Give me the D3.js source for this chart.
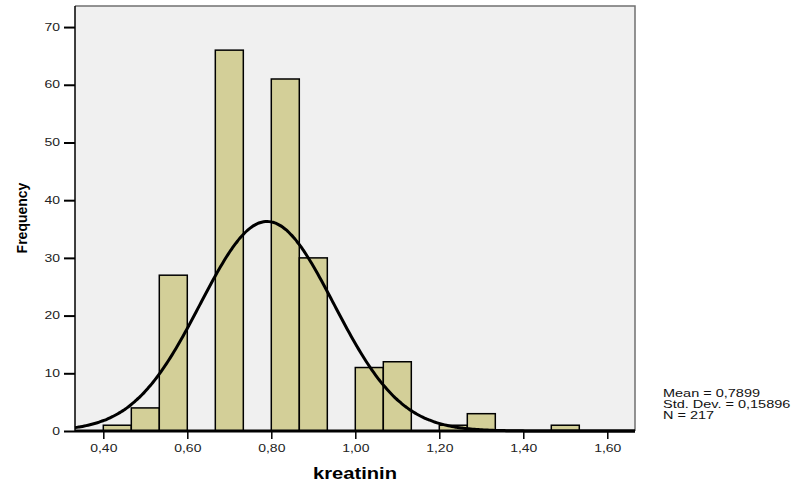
<!DOCTYPE html>
<html><head><meta charset="utf-8">
<script src="https://cdn.jsdelivr.net/npm/d3@7"></script>
<style>body{margin:0;background:#fff}svg{display:block}</style>
</head><body>
<script>
// Data
const binStart = [0.40,0.4667,0.5333,0.60,0.6667,0.7333,0.80,0.8667,0.9333,1.00,1.0667,1.1333,1.20,1.2667,1.3333,1.40,1.4667];
const binWidth = 1/15;
const counts   = [1,4,27,0,66,0,61,30,0,11,12,0,1,3,0,0,1];
const xTicks = [0.4,0.6,0.8,1.0,1.2,1.4,1.6];
const yTicks = [0,10,20,30,40,50,60,70];
const mean = 0.7899, sd = 0.15896, N = 217;
const statsText = ["Mean = 0,7899","Std. Dev. = 0,15896","N = 217"];

const W=797,H=484;
const L=75,R=635,T=6,B=431;
const FONT="Liberation Sans, Arial, sans-serif";
const svg=d3.select("body").append("svg").attr("width",W).attr("height",H);
const x=d3.scaleLinear().domain([0.3326,1.666]).range([L,R]);
const y=d3.scaleLinear().domain([0,73.65]).range([B,T]);
const fmt=v=>v.toFixed(2).replace(".",",");

svg.append("rect").attr("x",L).attr("y",T).attr("width",R-L).attr("height",B-T).attr("fill","#f0f0f0");
svg.append("path").attr("d",`M${L},${T}H${R}V${B}`).attr("fill","none").attr("stroke","#707070").attr("stroke-width",1.5);

const bars=binStart.map((s,i)=>({s,c:counts[i]})).filter(d=>d.c>0);
svg.append("g").selectAll("rect").data(bars).join("rect")
  .attr("x",d=>x(d.s)).attr("width",d=>x(d.s+binWidth)-x(d.s))
  .attr("y",d=>y(d.c)).attr("height",d=>y(0)-y(d.c))
  .attr("fill","#d3cf98").attr("stroke","#000").attr("stroke-width",1.5);

// fitted normal curve from the reported mean / sd / N
const pdf=v=>N*binWidth*Math.exp(-0.5*((v-mean)/sd)**2)/(sd*Math.sqrt(2*Math.PI));
const xs=d3.range(0,301).map(i=>x.domain()[0]+(x.domain()[1]-x.domain()[0])*i/300);
svg.append("path").datum(xs)
  .attr("d",d3.line().x(v=>x(v)).y(v=>y(pdf(v))).curve(d3.curveBasis))
  .attr("fill","none").attr("stroke","#000").attr("stroke-width",3);

const SX=1.4;
const ya=svg.append("g").attr("transform",`translate(${L},0)`)
  .call(d3.axisLeft(y).tickValues(yTicks).tickSize(11).tickPadding(4).tickFormat(d3.format("d")));
ya.select(".domain").attr("d",`M0,${T}V${B}`).attr("stroke","#000").attr("stroke-width",1.5);
ya.selectAll(".tick line").attr("stroke","#000").attr("stroke-width",2);
ya.selectAll("text").attr("font-family",FONT).attr("font-size",10).attr("fill","#222")
  .attr("x",-15/SX).attr("transform",`scale(${SX},1)`);

const xa=svg.append("g").attr("transform",`translate(0,${B})`)
  .call(d3.axisBottom(x).tickValues(xTicks).tickSize(8).tickPadding(6).tickFormat(fmt));
xa.select(".domain").attr("d",`M${L},0H${R}`).attr("stroke","#000").attr("stroke-width",3);
xa.selectAll(".tick line").attr("stroke","#000").attr("stroke-width",1.5);
xa.selectAll("text").attr("font-family",FONT).attr("font-size",10).attr("fill","#222")
  .attr("transform",`scale(${SX},1)`);

svg.append("text").attr("transform","translate(355,479) scale(1.26,1)").attr("text-anchor","middle")
  .attr("font-family",FONT).attr("font-weight","bold").attr("font-size",16).text("kreatinin");
svg.append("text").attr("transform","translate(27,218) rotate(-90)").attr("text-anchor","middle")
  .attr("font-family",FONT).attr("font-weight","bold").attr("font-size",14).text("Frequency");

svg.append("g").selectAll("text").data(statsText).join("text")
  .attr("transform",(d,i)=>`translate(663,${397+i*11}) scale(1.45,1)`)
  .attr("font-family",FONT).attr("font-size",10).attr("fill","#111").text(d=>d);
</script>
</body></html>
